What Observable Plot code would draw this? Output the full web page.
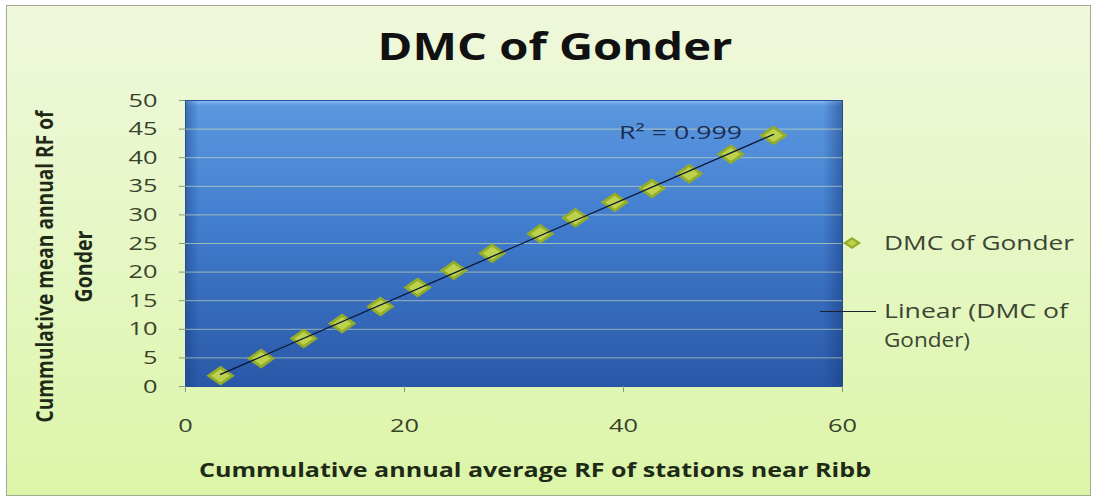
<!DOCTYPE html>
<html>
<head>
<meta charset="utf-8">
<script src="https://cdn.jsdelivr.net/npm/d3@7"></script>
<script src="https://cdn.jsdelivr.net/npm/@observablehq/plot@0.6"></script>
<style>
  html, body { margin: 0; padding: 0; background: #ffffff; }
  #wrap { position: relative; width: 1101px; height: 499px; overflow: hidden; font-family: "Open Sans", sans-serif; }
  #bg { position: absolute; left: 6px; top: 5px; width: 1083px; height: 489px; border: 1px solid #a3ac92;
        background: linear-gradient(to bottom, #eff8dc 0%, #e6f7c4 50%, #dcf5a8 100%); }
  #chart { position: absolute; left: 0; top: 0; }
  .lg { position: absolute; font-size: 20px; color: #3c4434; white-space: nowrap; transform-origin: 0 50%; line-height: 1; }
</style>
</head>
<body>
<div id="wrap">
  <div id="bg"></div>
  <div id="chart"></div>
</div>
<script>
// ---- data ----
const xValues = [3.2, 6.9, 10.8, 14.3, 17.8, 21.2, 24.5, 28.0, 32.4, 35.6, 39.2, 42.6, 46.0, 49.8, 53.7];
const yValues = [1.9, 4.9, 8.4, 11.0, 14.0, 17.3, 20.3, 23.3, 26.7, 29.5, 32.2, 34.6, 37.2, 40.6, 43.9];
const xTicks = [0, 20, 40, 60];
const yTicks = [0, 5, 10, 15, 20, 25, 30, 35, 40, 45, 50];
const titleText = "DMC of Gonder";
const xLabelText = "Cummulative annual average RF of stations near Ribb";
const yLabelLines = ["Cummulative mean annual RF of", "Gonder"];
const seriesName = "DMC of Gonder";
const trendNameLines = ["Linear (DMC of", "Gonder)"];
const r2Text = "R\u00b2 = 0.999";

const data = xValues.map((x, i) => ({x, y: yValues[i]}));

const wideDiamond = {
  draw(ctx, size) {
    const r = Math.sqrt(size / Math.PI);
    const w = r * 1.35, h = r * 0.95;
    ctx.moveTo(-w, 0); ctx.lineTo(0, -h); ctx.lineTo(w, 0); ctx.lineTo(0, h); ctx.closePath();
  }
};

const svg = Plot.plot({
  width: 1101,
  height: 499,
  marginLeft: 185,
  marginRight: 259,
  marginTop: 100,
  marginBottom: 113,
  style: {background: "transparent", fontFamily: "'Open Sans', sans-serif", overflow: "visible"},
  x: {domain: [0, 60], ticks: xTicks},
  y: {domain: [0, 50], ticks: yTicks},
  marks: [
    Plot.frame({fill: "url(#plotBg)", stroke: "#27529c"}),
    Plot.frame({fill: "url(#plotEdge)"}),
    Plot.gridY(yTicks.filter(t => t > 0 && t < 50), {stroke: "#d9e7b8", strokeOpacity: 0.6, strokeWidth: 1}),
    Plot.axisY({ticks: yTicks, tickSize: 6, tickPadding: 22, fontSize: 19, fill: "#38422c", stroke: "#8a9480", label: null}),
    Plot.axisX({ticks: xTicks, tickSize: 6, tickPadding: 26, fontSize: 19, fill: "#38422c", stroke: "#8a9480", label: null}),
    Plot.dot(data, {x: "x", y: "y", r: 10.5, symbol: wideDiamond, fill: "#93ad2a"}),
    Plot.dot(data, {x: "x", y: "y", r: 7, symbol: wideDiamond, fill: "#bcd24c"}),
    Plot.linearRegressionY(data, {x: "x", y: "y", stroke: "#0b1638", strokeWidth: 1.3, ci: 0}),
    Plot.text(data.slice(-1), {x: "x", y: "y", text: () => r2Text, dx: -93, dy: -2, fontSize: 19, fill: "#1c2d55", textAnchor: "middle"}),
    Plot.text([titleText], {text: d => d, frameAnchor: "top", dx: 41, dy: -53, fontSize: 38, fontWeight: "bold", fill: "#111111", textAnchor: "middle", lineAnchor: "middle"}),
    Plot.text([xLabelText], {text: d => d, frameAnchor: "bottom", dx: 21, dy: 84, fontSize: 19, fontWeight: "bold", fill: "#1e2a16", textAnchor: "middle", lineAnchor: "middle"}),
    Plot.text([yLabelLines[0]], {text: d => d, frameAnchor: "left", rotate: -90, dx: -140, dy: 23, fontSize: 23, fontWeight: "bold", fill: "#1e2a16", textAnchor: "middle", lineAnchor: "middle"}),
    Plot.text([yLabelLines[1]], {text: d => d, frameAnchor: "left", rotate: -90, dx: -101, dy: 23, fontSize: 23, fontWeight: "bold", fill: "#1e2a16", textAnchor: "middle", lineAnchor: "middle"})
  ]
});

// gradients for the plot area
const defs = d3.select(svg).insert("defs", ":first-child");
const g1 = defs.append("linearGradient").attr("id", "plotBg").attr("x1", 0).attr("y1", 0).attr("x2", 0).attr("y2", 1);
[[0, "#86bbf2"], [0.02, "#5b97df"], [0.4, "#437fcf"], [1, "#2a58a8"]].forEach(([o, c]) => g1.append("stop").attr("offset", o).attr("stop-color", c));
const g2 = defs.append("linearGradient").attr("id", "plotEdge").attr("x1", 0).attr("y1", 0).attr("x2", 1).attr("y2", 0);
[[0, "#17397a", 0.45], [0.02, "#17397a", 0], [0.97, "#17397a", 0], [1, "#17397a", 0.5]].forEach(([o, c, a]) => g2.append("stop").attr("offset", o).attr("stop-color", c).attr("stop-opacity", a));

document.getElementById("chart").appendChild(svg);

// stretch texts to the widths seen in the reference
function fit(content, len) {
  d3.select(svg).selectAll("text").filter(function() { return this.textContent === content; })
    .attr("textLength", len).attr("lengthAdjust", "spacingAndGlyphs");
}
fit(titleText, 355);
fit(xLabelText, 672);
fit(yLabelLines[0], 312);
fit(yLabelLines[1], 72);
fit(r2Text, 123);
d3.select(svg).selectAll('g[aria-label="y-axis tick label"] text, g[aria-label="x-axis tick label"] text')
  .each(function() { const n = this.textContent.length; d3.select(this).attr("textLength", n * 14.5).attr("lengthAdjust", "spacingAndGlyphs"); });

// legend (HTML, right of plot)
const wrap = document.getElementById("wrap");
function legendText(str, left, cy, width) {
  const s = document.createElement("div");
  s.className = "lg";
  s.textContent = str;
  wrap.appendChild(s);
  const r = s.getBoundingClientRect();
  s.style.left = left + "px";
  s.style.top = (cy - r.height / 2) + "px";
  s.style.transform = `scaleX(${width / r.width})`;
}
const mk = document.createElementNS("http://www.w3.org/2000/svg", "svg");
mk.setAttribute("width", 20); mk.setAttribute("height", 14);
mk.style.position = "absolute"; mk.style.left = "842px"; mk.style.top = "236px";
mk.innerHTML = '<path d="M1,7 L10,1 L19,7 L10,13 Z" fill="#93ad2a"/><path d="M5,7 L10,3.5 L15,7 L10,10.5 Z" fill="#bcd24c"/>';
wrap.appendChild(mk);
legendText(seriesName, 884, 243, 190);
const ln = document.createElement("div");
ln.style.cssText = "position:absolute;left:820px;top:311px;width:56px;height:0;border-top:1.3px solid #1a2230;";
wrap.appendChild(ln);
legendText(trendNameLines[0], 884, 311, 184);
legendText(trendNameLines[1], 884, 340, 86);
</script>
</body>
</html>
